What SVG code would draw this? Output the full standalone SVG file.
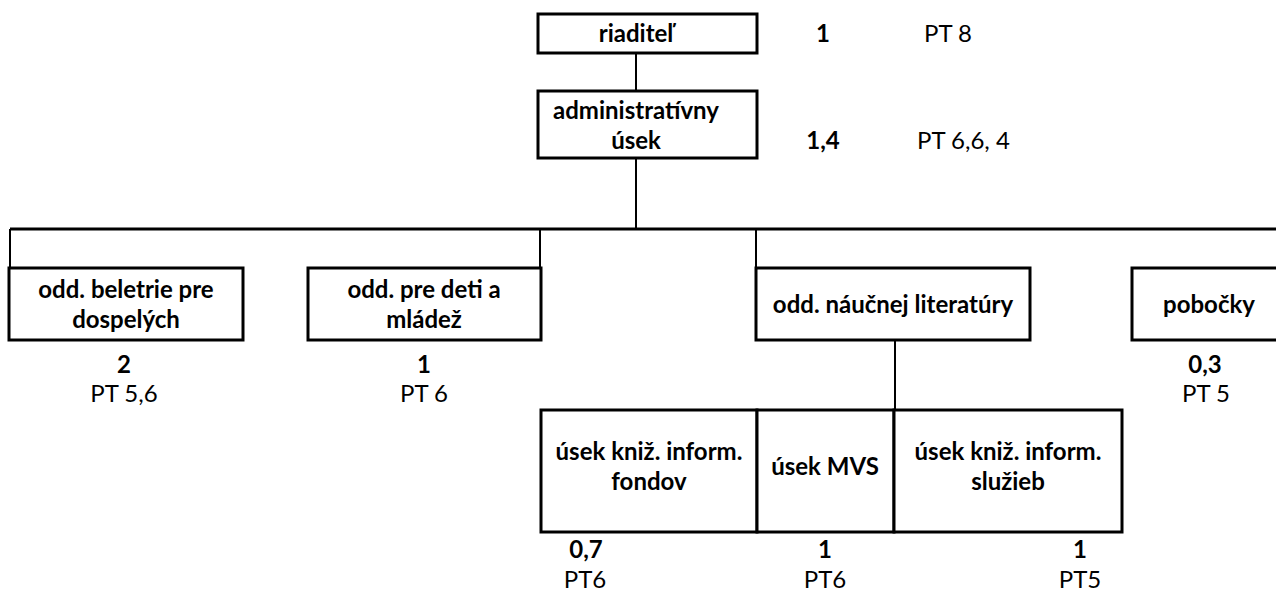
<svg xmlns="http://www.w3.org/2000/svg" width="1276" height="596" viewBox="0 0 1276 596">
<style>
.box{fill:#fff;stroke:#000;stroke-width:3}
.ln{fill:none;stroke:#000;stroke-width:2}
text{font-family:Lato,"Liberation Sans",sans-serif;font-size:24px;fill:#000;text-anchor:middle}
.b{font-weight:bold}
.l{text-anchor:start}
</style>
<rect width="1276" height="596" fill="#fff"/>
<g id="connectors">
<line class="ln" x1="636" y1="53" x2="636" y2="91"/>
<line class="ln" x1="636" y1="158" x2="636" y2="229"/>
<line class="ln" x1="10" y1="229" x2="1276" y2="229" style="stroke-width:3"/>
<line class="ln" x1="10" y1="229" x2="10" y2="268"/>
<line class="ln" x1="540" y1="229" x2="540" y2="268"/>
<line class="ln" x1="756" y1="229" x2="756" y2="268"/>
<line class="ln" x1="895" y1="340" x2="895" y2="410"/>
</g>
<g id="riaditel">
<rect class="box" x="538" y="14" width="219" height="39"/>
<text class="b" x="636" y="42">riaditeľ</text>
<text class="b" x="823" y="42">1</text>
<text x="948" y="42">PT 8</text>
</g>
<g id="admin">
<rect class="box" x="538" y="91" width="219" height="67"/>
<text class="b" x="636" y="119">administratívny</text>
<text class="b" x="636" y="149">úsek</text>
<text class="b" x="823" y="149">1,4</text>
<text class="l" x="917" y="149">PT 6,6, 4</text>
</g>
<g id="beletria">
<rect class="box" x="9" y="268" width="234" height="72"/>
<text class="b" x="126" y="298">odd. beletrie pre</text>
<text class="b" x="126" y="328">dospelých</text>
<text class="b" x="124" y="373">2</text>
<text x="124" y="402">PT 5,6</text>
</g>
<g id="deti">
<rect class="box" x="308" y="268" width="233" height="72"/>
<text class="b" x="424" y="298">odd. pre deti a</text>
<text class="b" x="424" y="328">mládež</text>
<text class="b" x="424" y="373">1</text>
<text x="424" y="402">PT 6</text>
</g>
<g id="naucna">
<rect class="box" x="756" y="268" width="274" height="72"/>
<text class="b" x="893" y="313">odd. náučnej literatúry</text>
</g>
<g id="pobocky">
<rect class="box" x="1132" y="268" width="150" height="72"/>
<text class="b" x="1209" y="313">pobočky</text>
<text class="b" x="1205" y="373">0,3</text>
<text x="1206" y="402">PT 5</text>
</g>
<g id="fondy">
<rect class="box" x="541" y="410" width="216" height="122"/>
<text class="b" x="649" y="460">úsek kniž. inform.</text>
<text class="b" x="649" y="490">fondov</text>
<text class="b" x="586" y="558">0,7</text>
<text x="585" y="588">PT6</text>
</g>
<g id="mvs">
<rect class="box" x="757" y="410" width="137" height="122"/>
<text class="b" x="825" y="475">úsek MVS</text>
<text class="b" x="825" y="558">1</text>
<text x="825" y="588">PT6</text>
</g>
<g id="sluzby">
<rect class="box" x="894" y="410" width="228" height="122"/>
<text class="b" x="1008" y="460">úsek kniž. inform.</text>
<text class="b" x="1008" y="490">služieb</text>
<text class="b" x="1080" y="558">1</text>
<text x="1080" y="588">PT5</text>
</g>
</svg>
